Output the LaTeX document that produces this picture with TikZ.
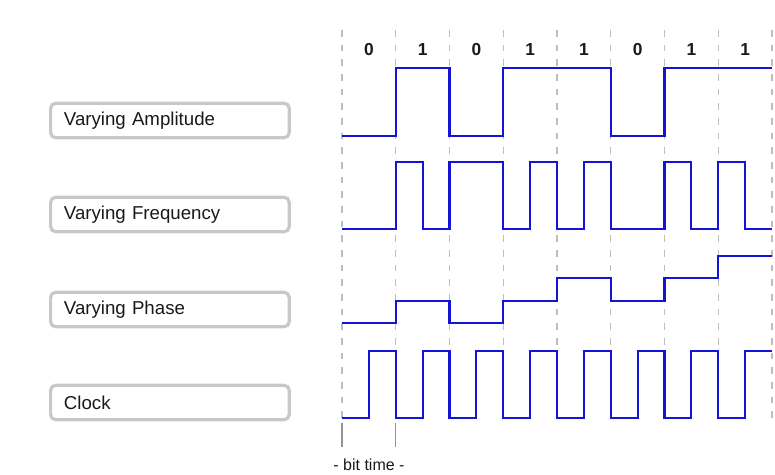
\documentclass[tikz,border=0pt]{standalone}
\usepackage{fontspec}
\setmainfont{Liberation Sans}
\definecolor{wave}{RGB}{20,20,215}
\definecolor{gridc}{RGB}{190,190,190}
\definecolor{boxc}{RGB}{200,200,200}
\definecolor{txt}{RGB}{25,25,25}
\begin{document}
\begin{tikzpicture}[x=0.75pt,y=-0.75pt,
  labelbox/.style={draw=boxc, line width=2.4pt, rounded corners=4pt, fill=white,
    anchor=west, minimum width=179pt, minimum height=26pt, inner xsep=9.5pt,
    text width=159pt, align=left, font=\fontsize{14}{16}\selectfont, text=txt},
  bitlbl/.style={font=\fontsize{13}{15}\selectfont\bfseries, text=txt},
  gridline/.style={draw=gridc, line width=1pt, dash pattern=on 5pt off 6pt},
  sig/.style={draw=wave, line width=1.6pt, line join=miter},
  tick/.style={draw=gray!85, line width=1.1pt}]
\useasboundingbox (0,0) rectangle (775,475);
% grid lines
\foreach \k in {0,...,8}{
  \coordinate (gt\k) at ({342+\k*53.75},30);
  \coordinate (gb\k) at ({342+\k*53.75},420);
  \draw[gridline] (gt\k) -- (gb\k);
}
% bit labels
\foreach \b [count=\i from 0] in {0,1,0,1,1,0,1,1}{
  \node[bitlbl] (bit\i) at ({342+\i*53.75+26.875},50) {\b};
}
% label boxes
\node[labelbox] (amp) at (49,120.5) {Varying Amplitude};
\node[labelbox] (freq) at (49,214.5) {Varying Frequency};
\node[labelbox] (phase) at (49,309.5) {Varying Phase};
\node[labelbox] (clock) at (49,402.5) {Clock};
% amplitude
\draw[sig] (342,136) -- (395.75,136) -- (395.75,68) -- (449.5,68) -- (449.5,136)
  -- (503.25,136) -- (503.25,68) -- (610.75,68) -- (610.75,136) -- (664.5,136)
  -- (664.5,68) -- (772,68);
% frequency
\draw[sig] (342,229) -- (395.75,229) -- (395.75,162) -- (422.625,162) -- (422.625,229)
  -- (449.5,229) -- (449.5,162) -- (503.25,162) -- (503.25,229) -- (530.125,229)
  -- (530.125,162) -- (557,162) -- (557,229) -- (583.875,229) -- (583.875,162)
  -- (610.75,162) -- (610.75,229) -- (664.5,229) -- (664.5,162) -- (691.375,162)
  -- (691.375,229) -- (718.25,229) -- (718.25,162) -- (745.125,162) -- (745.125,229)
  -- (772,229);
% phase
\draw[sig] (342,323) -- (395.75,323) -- (395.75,301) -- (449.5,301) -- (449.5,323)
  -- (503.25,323) -- (503.25,301) -- (557,301) -- (557,278) -- (610.75,278)
  -- (610.75,301) -- (664.5,301) -- (664.5,278) -- (718.25,278) -- (718.25,256)
  -- (772,256);
% clock
\draw[sig] (342,418)
  \foreach \k in {0,...,6}{
    -- ({342+\k*53.75+26.875},418) -- ({342+\k*53.75+26.875},351)
    -- ({342+(\k+1)*53.75},351) -- ({342+(\k+1)*53.75},418)
  }
  -- (745.125,418) -- (745.125,351) -- (772,351);
% bit time marker
\coordinate (t0a) at (342,423);
\coordinate (t0b) at (342,447);
\coordinate (t1a) at (395.75,423);
\coordinate (t1b) at (395.75,447);
\draw[tick] (t0a) -- (t0b);
\draw[tick] (t1a) -- (t1b);
\node[font=\fontsize{12}{14}\selectfont, text=txt] (bittime) at (369,465) {- bit time -};
\end{tikzpicture}
\end{document}
